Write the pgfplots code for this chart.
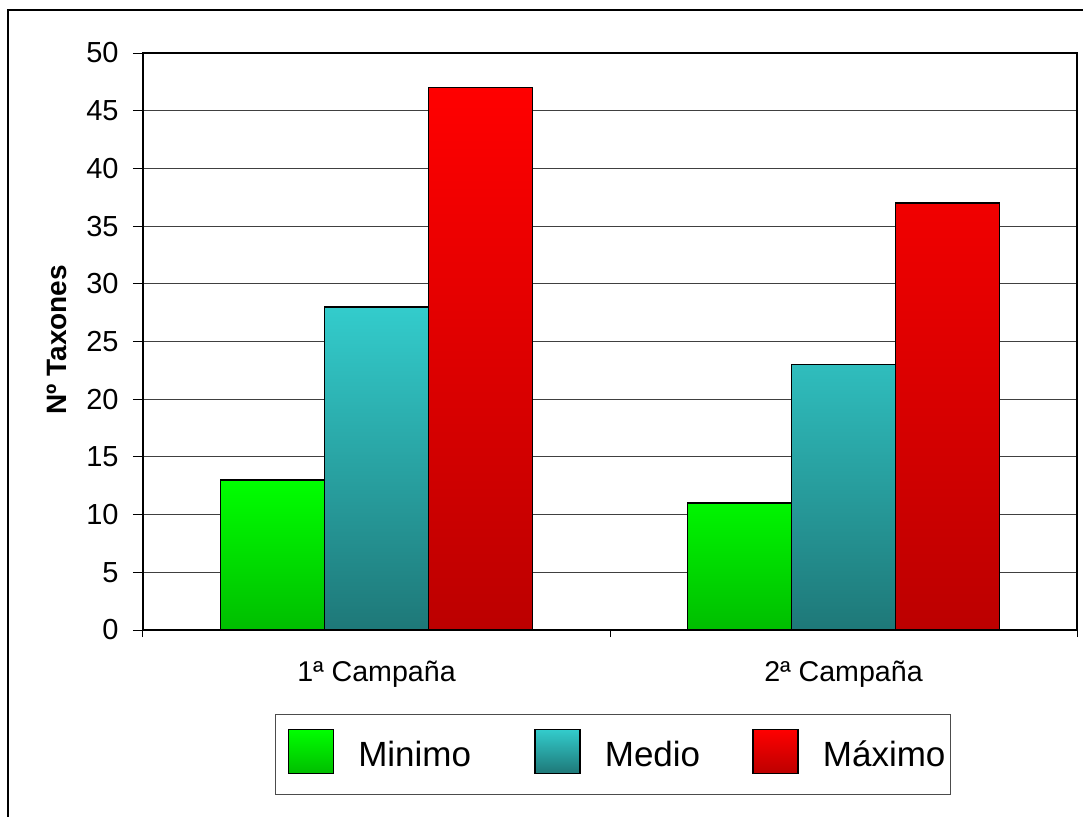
\documentclass[border=0pt]{standalone}
\usepackage{fontspec}
\setmainfont{Liberation Sans}
\usepackage{pgfplots}
\pgfplotsset{compat=1.18}
\definecolor{gtop}{RGB}{0,255,0}
\definecolor{gbot}{RGB}{0,190,0}
\definecolor{ctop}{RGB}{51,204,204}
\definecolor{cbot}{RGB}{30,120,120}
\definecolor{rtop}{RGB}{255,0,0}
\definecolor{rbot}{RGB}{188,0,0}
\pgfplotsset{
  mylegimg/.style={legend image code/.code={%
    \node[inner sep=0pt, minimum height=26pt, minimum width=0pt, text width=0pt] at (0pt,0pt) {};
    \draw[##1, line width=0.75pt] (4pt,-9.25pt) rectangle (26.5pt,12.75pt);}},
}
\begin{document}
\begin{tikzpicture}
\useasboundingbox (0,0) rectangle (541.5pt,408pt);
\clip (0,0) rectangle (541.5pt,408pt);
\fill[white] (0,0) rectangle (541.5pt,408pt);
\draw[line width=1pt] (4pt,-10pt) rectangle (560pt,403pt);
\begin{axis}[
  at={(71.5pt,93pt)}, anchor=south west,
  scale only axis, width=467pt, height=288.5pt,
  ybar=0pt, bar width=52pt,
  xmin=0.5, xmax=2.5, ymin=0, ymax=50,
  xtick={1,2}, xticklabels={1ª Campaña, 2ª Campaña},
  minor xtick={0.5,1.5,2.5},
  ytick={0,5,...,50},
  tick align=outside, tick pos=left,
  major tick length=5pt, minor tick length=3.5pt,
  major x tick style={draw=none},
  minor x tick style={black, line width=0.5pt},
  ytick style={black, line width=0.5pt},
  ymajorgrids, grid style={black!75, line width=0.5pt},
  axis line style={black, line width=0.6pt},
  /pgf/number format/assume math mode=true,
  yticklabel style={font=\fontsize{14.5}{16}\selectfont, inner sep=0pt, xshift=-7pt},
  xticklabel style={font=\fontsize{14.3}{16}\selectfont, yshift=-7pt},
  ylabel={Nº Taxones},
  ylabel style={font=\fontsize{14}{16}\selectfont\bfseries, at={(axis description cs:-0.092,0.503)}, anchor=center},
  legend columns=3,
  legend style={at={(axis description cs:0.1413,-0.1456)}, anchor=north west,
    draw=black!70, line width=0.6pt, font=\fontsize{17.5}{19}\selectfont,
    inner xsep=2.5pt, inner ysep=7pt,
    nodes={inner sep=0pt},
    /tikz/column 1/.style={column sep=12pt},
    /tikz/column 2/.style={column sep=28pt},
    /tikz/column 3/.style={column sep=12pt},
    /tikz/column 4/.style={column sep=22.5pt},
    /tikz/column 5/.style={column sep=12pt}},
]
\addplot[draw=black, line width=0.75pt, top color=gtop, bottom color=gbot, mylegimg] coordinates {(1,13) (2,11)};
\addplot[draw=black, line width=0.75pt, top color=ctop, bottom color=cbot, mylegimg] coordinates {(1,28) (2,23)};
\addplot[draw=black, line width=0.75pt, top color=rtop, bottom color=rbot, mylegimg] coordinates {(1,47) (2,37)};
\legend{Minimo, Medio, Máximo}
\end{axis}
\end{tikzpicture}
\end{document}
